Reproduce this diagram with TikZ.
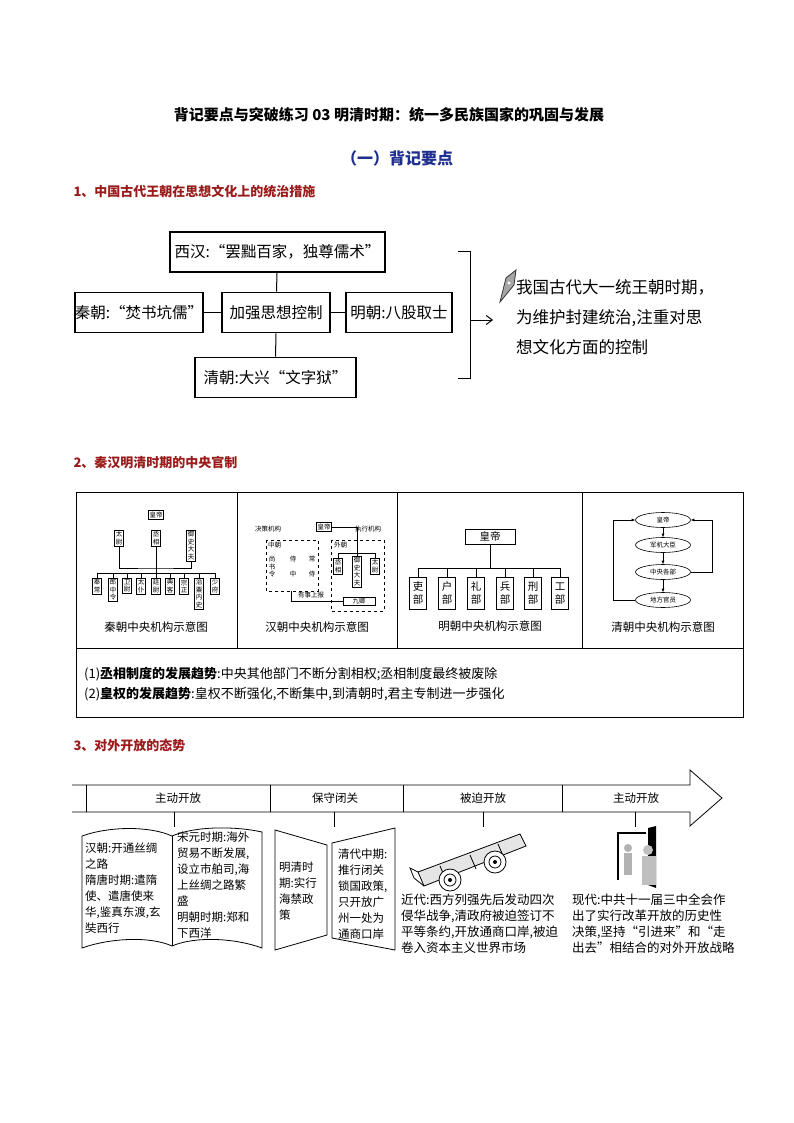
\documentclass[tikz,border=0pt]{standalone}
\usepackage{fontspec}
\setmainfont{Noto Sans CJK SC}
\usetikzlibrary{shapes.geometric,arrows.meta}
\definecolor{hred}{HTML}{9B1B1B}
\definecolor{hblue}{HTML}{1F2F8F}
\newcommand{\fs}[2][1.2]{\fontsize{#2}{#1\dimexpr #2pt\relax}\selectfont}
\newcommand{\fsb}[2]{\fontsize{#1}{#2}\selectfont}
\tikzset{
 bigbox/.style={draw,line width=1.6pt,inner sep=0pt,minimum height=40pt,font=\fs{15.5}},
 tiny/.style={draw,line width=0.6pt,inner sep=1.2pt,font=\fsb{6.5}{7.5},align=center},
 ming/.style={draw,line width=0.7pt,inner sep=1.5pt,font=\fsb{10.5}{13},align=center,minimum width=17pt,minimum height=32pt,anchor=north},
 qell/.style={draw,ellipse,line width=0.6pt,minimum width=55pt,minimum height=15pt,inner sep=0pt,font=\fs{6.5}},
 captxt/.style={font=\fs{11.5}},
 txt/.style={font=\fsb{11.5}{16},anchor=north west,align=left,inner sep=0pt},
 ln/.style={line width=0.6pt},
}
\begin{document}
\begin{tikzpicture}[x=1pt,y=-1pt]
\useasboundingbox (0,0) rectangle (794,1123);
\fill[white] (0,0) rectangle (794,1123);
% titles
\node[font=\fs{15}\bfseries] (title) at (389,115) {背记要点与突破练习 03 明清时期：统一多民族国家的巩固与发展};
\node[font=\fs{16}\bfseries,text=hblue] (sub) at (397,158) {（一）背记要点};
\node[font=\fs{13}\bfseries,text=hred,anchor=west] (h1) at (70,192) {1、中国古代王朝在思想文化上的统治措施};
% section 1
\node[bigbox,minimum width=215pt] (xh) at (277.5,252) {西汉:“罢黜百家，独尊儒术”};
\node[bigbox,minimum width=122pt] (qin) at (139,312.5) {秦朝:“焚书坑儒”};
\node[bigbox,minimum width=108pt] (jq) at (276,312.5) {加强思想控制};
\node[bigbox,minimum width=106pt] (mc) at (399,312.5) {明朝:八股取士};
\node[bigbox,minimum width=161pt] (qc) at (275.5,377.5) {清朝:大兴“文字狱”};
\draw[line width=1pt] (xh) -- (jq); \draw[line width=1pt] (jq) -- (qc);
\draw[line width=1pt] (qin) -- (jq); \draw[line width=1pt] (jq) -- (mc);
\coordinate (b1) at (458,251); \coordinate (b2) at (470,251); \coordinate (b3) at (470,378); \coordinate (b4) at (458,378);
\draw[line width=1pt] (b1) -- (b2) -- (b3) -- (b4);
\coordinate (a1) at (470,320); \coordinate (a2) at (493,320);
\draw[line width=1pt,-{Straight Barb[length=6pt,width=9pt]}] (a1) -- (a2);
% pen icon
\fill[gray!70] (500,302) -- (506,278) -- (516,270) -- (514,285) -- cycle;
\draw[gray!40!black,line width=0.8pt] (500,302) -- (506,278) -- (516,270) -- (514,285) -- cycle;
\fill[white] (509,283) circle (1.6);
\node[font=\fsb{16.5}{30},anchor=north west,align=left,inner sep=0pt] (sum) at (516,279) {我国古代大一统王朝时期，\\为维护封建统治,注重对思\\想文化方面的控制};
% section 2
\node[font=\fs{13}\bfseries,text=hred,anchor=west] (h2) at (70,463) {2、秦汉明清时期的中央官制};
\draw[line width=0.8pt] (76,492) rectangle (743,717);
\draw[line width=0.8pt] (76,648) -- (743,648);
\foreach \xx in {237,397,582} \draw[line width=0.8pt] (\xx,492) -- (\xx,648);
\node[font=\fs{13},anchor=west,inner sep=0pt] (t1) at (84,674) {(1)\textbf{丞相制度的发展趋势}:中央其他部门不断分割相权;丞相制度最终被废除};
\node[font=\fs{13},anchor=west,inner sep=0pt] (t2) at (84,694) {(2)\textbf{皇权的发展趋势}:皇权不断强化,不断集中,到清朝时,君主专制进一步强化};
% Qin
\node[tiny] (qhd) at (156,515) {皇帝};
\node[tiny,anchor=north] (qtw) at (119,530) {太\\尉};
\node[tiny,anchor=north] (qcx) at (156,530) {丞\\相};
\node[tiny,anchor=north] (qys) at (191,530) {御\\史\\大\\夫};
\draw[ln] (qtw.south) |- (156,568) -| (qys.south);
\draw[ln] (qcx.south) -- (156,578);
\draw[ln] (97,573) -- (215,573);
\foreach \nm/\xx/\tx in {q1/97/奉\\常,q2/113/郎\\中\\令,q3/127/卫\\尉,q4/141/太\\仆,q5/156/廷\\尉,q6/170/典\\客,q7/184/宗\\正,q8/199/治\\粟\\内\\史,q9/215/少\\府}{
 \node[tiny,anchor=north] (\nm) at (\xx,578) {\tx};
 \draw[ln] (\xx,573) -- (\nm.north);
}
\node[captxt] (qcap) at (156,627) {秦朝中央机构示意图};
% Han
\node[tiny] (hhd) at (324,527) {皇帝};
\node[font=\fs{6.5}] (jc) at (268,529) {决策机构};
\node[font=\fs{6.5}] (zx) at (368,529) {执行机构};
\draw[ln,dashed] (266,540) rectangle (318,591);
\node[font=\fs{6.5},anchor=north west,inner sep=0pt] (zc) at (268,542) {中朝};
\node[font=\fsb{6.5}{7.5},align=center,inner sep=0pt] (ss) at (272,567) {尚\\书\\令};
\node[font=\fsb{6.5}{15},align=center,inner sep=0pt] (sz) at (293,567) {侍\\中};
\node[font=\fsb{6.5}{15},align=center,inner sep=0pt] (cs) at (312,567) {常\\侍};
\draw[ln,dashed] (331,540) rectangle (384,611);
\node[font=\fs{6.5},anchor=north west,inner sep=0pt] (wc) at (334,542) {外朝};
\node[tiny,anchor=north] (hcx) at (338,558) {丞\\相};
\node[tiny,anchor=north] (hys) at (357,556) {御\\史\\大\\夫};
\node[tiny,anchor=north] (htw) at (375,558) {太\\尉};
\draw[ln] (hhd.east) -| (357,553);
\draw[ln] (hcx.north) |- (375,553) -- (htw.north);
\draw[ln] (357,553) -- (hys.north);
\node[tiny,minimum width=32pt] (jq9) at (359,601) {九卿};
\draw[ln] (291,591) |- (jq9.west);
\node[font=\fs{6.5}] (ysb) at (311,595) {有事上报};
\node[captxt] (hcap) at (317,627) {汉朝中央机构示意图};
% Ming
\node[draw,line width=0.8pt,minimum width=50pt,minimum height=15pt,inner sep=0pt,font=\fs{10.5}] (mhd) at (490,536.5) {皇帝};
\draw[ln] (mhd.south) -- (490,568);
\draw[ln] (418,568) -- (560,568);
\foreach \nm/\xx/\tx in {m1/418/吏,m2/447/户,m3/476/礼,m4/505/兵,m5/533/刑,m6/560/工}{
 \node[ming] (\nm) at (\xx,577) {\tx\\部};
 \draw[ln] (\xx,568) -- (\nm.north);
}
\node[captxt] (mcap) at (490,626) {明朝中央机构示意图};
% Qing
\node[qell] (e1) at (663,520) {皇帝};
\node[qell] (e2) at (663,545) {军机大臣};
\node[qell] (e3) at (663,572) {中央各部};
\node[qell] (e4) at (663,600) {地方官员};
\tikzset{qa/.style={ln,-{Latex[length=3.5pt,width=3pt]}}}
\draw[qa] (e1) -- (e2); \draw[qa] (e2) -- (e3); \draw[qa] (e3) -- (e4);
\draw[qa] (e4.west) -| (613,520) -- (e1.west);
\draw[qa] (e3.east) -| (712,520) -- (e1.east);
\node[captxt] (ccap) at (663,627) {清朝中央机构示意图};
% section 3
\node[font=\fs{13}\bfseries,text=hred,anchor=west] (h3) at (70,745) {3、对外开放的态势};
\draw[line width=0.8pt] (72,785) -- (690,785) -- (690,770) -- (722,798) -- (690,826) -- (690,812) -- (72,812);
\foreach \xx in {86,270,403,562} \draw[line width=0.8pt] (\xx,785) -- (\xx,812);
\node[font=\fs{11.5}] (p1) at (178,798) {主动开放};
\node[font=\fs{11.5}] (p2) at (335,798) {保守闭关};
\node[font=\fs{11.5}] (p3) at (483,798) {被迫开放};
\node[font=\fs{11.5}] (p4) at (636,798) {主动开放};
\foreach \xx in {174,334,483,635} \draw[line width=0.8pt] (\xx,812) -- (\xx,827);
% book
\draw[line width=0.8pt] (82,836) .. controls (110,826) and (150,826) .. (172,836) .. controls (195,826) and (235,826) .. (262,832)
  -- (262,948) .. controls (235,938) and (195,936) .. (172,946) .. controls (150,936) and (110,938) .. (82,948) -- cycle;
\draw[line width=0.8pt] (172,836) -- (172,946);
\node[txt] (bk1) at (85,843) {汉朝:开通丝绸\\之路\\隋唐时期:遣隋\\使、遣唐使来\\华,鉴真东渡,玄\\奘西行};
\node[txt] (bk2) at (177,832) {宋元时期:海外\\贸易不断发展,\\设立市舶司,海\\上丝绸之路繁\\盛\\明朝时期:郑和\\下西洋};
% door
\draw[line width=0.8pt] (275,830) -- (327,845) -- (327,935) -- (275,950) -- cycle;
\draw[line width=0.8pt] (332,843) -- (395,828) -- (395,950) -- (332,938) -- cycle;
\node[txt] (dr1) at (279,862) {明清时\\期:实行\\海禁政\\策};
\node[txt] (dr2) at (338,849) {清代中期:\\推行闭关\\锁国政策,\\只开放广\\州一处为\\通商口岸};
% cannon
\begin{scope}[line width=0.8pt]
\draw[fill=gray!20] (418,872) -- (520,834) -- (526,846) -- (424,886) -- cycle;
\draw (440,866) -- (446,880); \draw (470,855) -- (476,869); \draw (498,844) -- (504,858);
\draw[fill=white] (450,880) circle (11); \draw (450,880) circle (6); \fill (450,880) circle (2);
\draw[fill=white] (495,862) circle (11); \draw (495,862) circle (6); \fill (495,862) circle (2);
\draw (418,872) -- (410,868) -- (414,878) -- (424,886);
\end{scope}
\node[font=\fsb{12.5}{16},anchor=north west,align=left,inner sep=0pt] (cn) at (401,894) {近代:西方列强先后发动四次\\侵华战争,清政府被迫签订不\\平等条约,开放通商口岸,被迫\\卷入资本主义世界市场};
% door with figures
\draw[line width=2pt] (618,880) -- (618,833) -- (646,833);
\fill[black] (648,828) -- (656,826) -- (656,888) -- (648,885) -- cycle;
\fill[gray!60] (628,848) circle (4); \fill[gray!60] (624,853) rectangle (632,875);
\fill[gray!50] (648,850) circle (5); \fill[gray!50] (642,856) rectangle (656,885);
\node[font=\fsb{12.5}{16},anchor=north west,align=left,inner sep=0pt] (md) at (572,894) {现代:中共十一届三中全会作\\出了实行改革开放的历史性\\决策,坚持“引进来”和“走\\出去”相结合的对外开放战略};
\end{tikzpicture}
\end{document}
